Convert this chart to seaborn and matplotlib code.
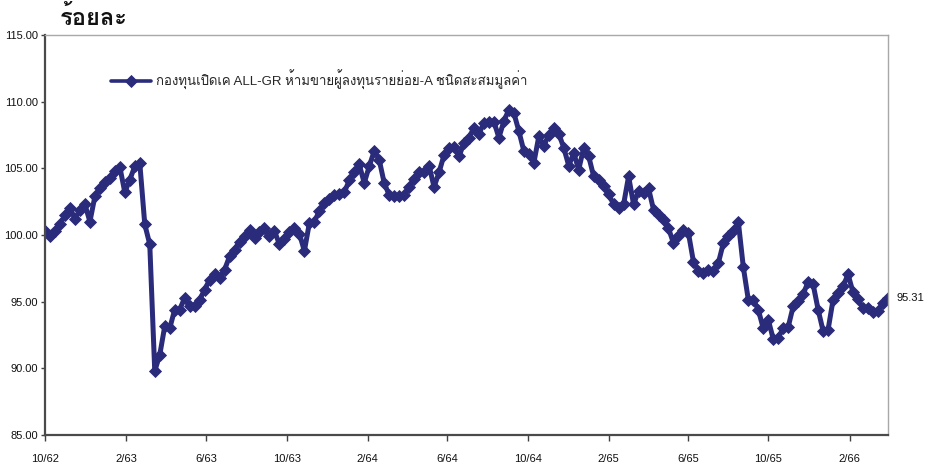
import matplotlib

matplotlib.use("Agg")
import matplotlib.pyplot as plt
import pandas as pd
import seaborn as sns
from matplotlib import font_manager
from matplotlib.ft2font import FT2Font

# NAV index, sampled about weekly from 1 Oct 2019 (10/62) to 31 Mar 2023
start_date = "2019-10-01"
end_date = "2023-03-31"
nav_values = [
    100.28, 99.9, 100.3, 100.8, 101.5, 102.05, 101.2, 101.9, 102.3, 101.0,
    102.9, 103.5, 104.0, 104.3, 104.8, 105.1, 103.2, 104.15, 105.15, 105.4,
    100.8, 99.3, 89.8, 91.0, 93.15, 93.0, 94.4, 94.4, 95.3, 94.7,
    94.7, 95.15, 95.9, 96.65, 97.05, 96.8, 97.4, 98.4, 98.9, 99.5,
    99.9, 100.35, 99.8, 100.2, 100.5, 99.9, 100.3, 99.3, 99.7, 100.2,
    100.5, 100.1, 98.8, 100.9, 101.0, 101.8, 102.4, 102.7, 103.0, 103.1,
    103.2, 104.1, 104.7, 105.3, 103.9, 105.15, 106.3, 105.65, 103.9, 103.0,
    102.9, 102.9, 103.0, 103.6, 104.2, 104.7, 104.7, 105.2, 103.6, 104.7,
    106.0, 106.5, 106.6, 105.9, 106.9, 107.3, 108.05, 107.6, 108.4, 108.5,
    108.5, 107.3, 108.55, 109.4, 109.15, 107.8, 106.3, 106.05, 105.4, 107.4,
    106.7, 107.5, 108.0, 107.6, 106.55, 105.2, 106.15, 104.9, 106.55, 105.9,
    104.4, 104.15, 103.65, 103.05, 102.3, 102.05, 102.3, 104.4, 102.3, 103.3,
    103.15, 103.5, 101.9, 101.5, 101.1, 100.5, 99.4, 99.9, 100.4, 100.15,
    98.0, 97.3, 97.15, 97.4, 97.3, 97.9, 99.4, 99.9, 100.3, 101.0,
    97.6, 95.15, 95.15, 94.4, 93.0, 93.65, 92.2, 92.3, 93.0, 93.1,
    94.65, 95.05, 95.55, 96.5, 96.3, 94.4, 92.8, 92.9, 95.15, 95.65,
    96.15, 97.05, 95.7, 95.2, 94.5, 94.5, 94.2, 94.3, 94.9, 95.31,
]
tick_dates = [
    "2019-10-01", "2020-02-01", "2020-06-01", "2020-10-01", "2021-02-01",
    "2021-06-01", "2021-10-01", "2022-02-01", "2022-06-01", "2022-10-01",
    "2023-02-01",
]
tick_labels = [
    "10/62", "2/63", "6/63", "10/63", "2/64", "6/64",
    "10/64", "2/65", "6/65", "10/65", "2/66",
]
y_ticks = [85, 90, 95, 100, 105, 110, 115]
series_name = "กองทุนเปิดเค ALL-GR ห้ามขายผู้ลงทุนรายย่อย-A ชนิดสะสมมูลค่า"
y_title = "ร้อยละ"


def thai_family():
    for entry in font_manager.fontManager.ttflist:
        try:
            if 0x0E23 in FT2Font(entry.fname).get_charmap():
                return entry.name
        except Exception:
            continue
    return "DejaVu Sans"


def main():
    frame = pd.DataFrame(
        {
            "date": pd.date_range(start_date, end_date, periods=len(nav_values)),
            "nav": nav_values,
        }
    )

    sns.set_theme(style="white")
    plt.rcParams["font.family"] = ["Liberation Sans", thai_family(), "DejaVu Sans"]

    fig = plt.figure(figsize=(9.34, 4.65), dpi=100)
    ax = fig.add_axes([0.0482, 0.0645, 0.9025, 0.8602])

    navy = "#2A2B7A"
    sns.lineplot(
        data=frame,
        x="date",
        y="nav",
        ax=ax,
        color=navy,
        linewidth=3.6,
        marker="D",
        markersize=6,
        markerfacecolor=navy,
        markeredgecolor=navy,
        markeredgewidth=0.6,
        label=series_name,
    )

    ax.set_xlim(pd.Timestamp(start_date), pd.Timestamp(end_date))
    ax.set_ylim(y_ticks[0], y_ticks[-1])
    ax.set_yticks(y_ticks)
    ax.set_yticklabels([f"{v:.2f}" for v in y_ticks])
    ax.set_xticks(pd.to_datetime(tick_dates))
    ax.set_xticklabels(tick_labels)
    ax.set_xlabel("")
    ax.set_ylabel("")

    ax.tick_params(axis="y", labelsize=8, length=3, width=1, pad=2,
                   left=True, color="#404040", labelcolor="#111111")
    ax.tick_params(axis="x", labelsize=8, length=4, width=1, pad=10,
                   bottom=True, color="#404040", labelcolor="#111111")

    for side in ("left", "bottom"):
        ax.spines[side].set_color("#4a4a4a")
        ax.spines[side].set_linewidth(1.6)
    for side in ("top", "right"):
        ax.spines[side].set_color("#a8a8a8")
        ax.spines[side].set_linewidth(1.0)

    last = frame.iloc[-1]
    ax.annotate(
        f"{last['nav']:.2f}",
        xy=(last["date"], last["nav"]),
        xytext=(6, 0),
        textcoords="offset points",
        ha="left",
        va="center",
        fontsize=8,
        color="#111111",
        annotation_clip=False,
    )

    legend = ax.legend(
        loc="center left",
        bbox_to_anchor=(0.072, 0.888),
        frameon=False,
        fontsize=9.5,
        handlelength=3.0,
        handletextpad=0.4,
        borderaxespad=0,
    )
    for handle in legend.get_lines():
        handle.set_linewidth(2.6)
        handle.set_markersize(6)

    fig.text(0.064, 0.962, y_title, fontsize=17, fontweight="bold",
             ha="left", va="center", color="#111111")

    fig.savefig("out.png", dpi=100)


if __name__ == "__main__":
    main()
